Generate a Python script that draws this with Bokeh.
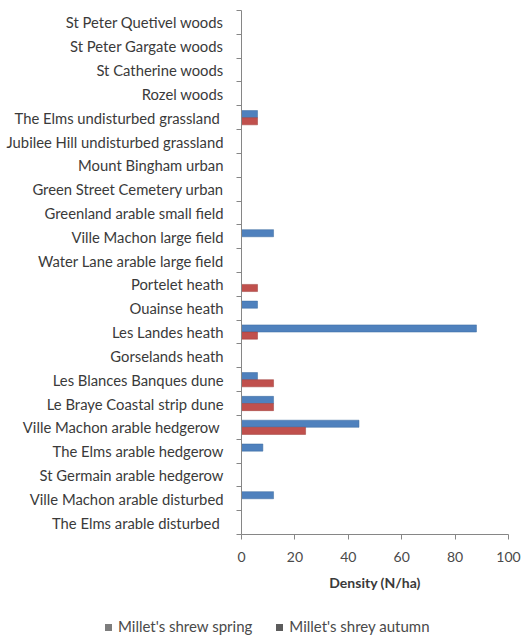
from bokeh.plotting import figure
from bokeh.models import Range1d, FixedTicker, ColumnDataSource, Div
from bokeh.layouts import column
from bokeh.embed import file_html
from bokeh.resources import INLINE

categories = [
    "St Peter Quetivel woods",
    "St Peter Gargate woods",
    "St Catherine woods",
    "Rozel woods",
    "The Elms  undisturbed grassland",
    "Jubilee Hill undisturbed grassland",
    "Mount Bingham urban",
    "Green Street Cemetery urban",
    "Greenland arable small field",
    "Ville Machon large field",
    "Water Lane arable large field",
    "Portelet heath",
    "Ouainse heath",
    "Les Landes heath",
    "Gorselands heath",
    "Les Blances Banques dune",
    "Le Braye Coastal strip dune",
    "Ville Machon  arable hedgerow",
    "The Elms arable hedgerow",
    "St Germain arable hedgerow",
    "Ville Machon arable disturbed",
    "The Elms  arable disturbed",
]
spring = [0, 0, 0, 0, 6, 0, 0, 0, 0, 12, 0, 0, 6, 88, 0, 6, 12, 44, 8, 0, 12, 0]
autumn = [0, 0, 0, 0, 6, 0, 0, 0, 0, 0, 0, 6, 0, 6, 0, 12, 12, 24, 0, 0, 0, 0]
x_ticks = [0, 20, 40, 60, 80, 100]
series_names = ["Millet's shrew spring", "Millet's shrey autumn"]
colors = ["#4F81BD", "#C0504D"]
legend_swatches = ["#7d7d7d", "#5c5c5c"]

n = len(categories)
pos = [n - 1 - i for i in range(n)]
FONT = "Lato"

p = figure(width=524, height=605, output_backend="svg", toolbar_location=None,
           x_range=Range1d(0, 100), y_range=Range1d(-0.5, n - 0.5),
           min_border_left=241, min_border_right=16, min_border_top=10, min_border_bottom=71)
p.outline_line_color = None
p.xgrid.visible = False
p.ygrid.visible = False
p.background_fill_color = "white"
p.border_fill_color = "white"

src_s = ColumnDataSource(dict(y=[v + 0.15 for v in pos], x=spring))
src_a = ColumnDataSource(dict(y=[v - 0.15 for v in pos], x=autumn))
r1 = p.hbar(y="y", right="x", left=0, height=0.3, source=src_s,
            fill_color=colors[0], line_color="#3A6A9E", line_width=0.5)
r2 = p.hbar(y="y", right="x", left=0, height=0.3, source=src_a,
            fill_color=colors[1], line_color="#9E3C39", line_width=0.5)

# y axis
ya = p.yaxis[0]
ya.ticker = FixedTicker(ticks=pos, minor_ticks=[v - 0.5 for v in range(n + 1)])
ya.major_label_overrides = {pos[i]: categories[i] for i in range(n)}
ya.major_tick_line_color = None
ya.minor_tick_line_color = "#868686"
ya.minor_tick_out = 5
ya.minor_tick_in = 0
ya.axis_line_color = "#868686"
ya.major_label_text_font = FONT
ya.major_label_text_font_size = "14.8px"
ya.major_label_text_color = "#3a3a3a"
ya.major_label_standoff = 12

# x axis
xa = p.xaxis[0]
xa.ticker = FixedTicker(ticks=x_ticks)
xa.minor_tick_line_color = None
xa.major_tick_line_color = "#868686"
xa.major_tick_out = 5
xa.major_tick_in = 0
xa.axis_line_color = "#868686"
xa.major_label_text_font = FONT
xa.major_label_text_font_size = "14px"
xa.major_label_text_color = "#4a4a4a"
xa.major_label_standoff = 12
xa.axis_label = "Density (N/ha)"
xa.axis_label_text_font = FONT
xa.axis_label_text_font_size = "14px"
xa.axis_label_text_font_style = "bold"
xa.axis_label_text_color = "#3a3a3a"
xa.axis_label_standoff = 9

# legend strip below the chart (HTML, so it is not clipped to the plot frame)
swatch = ('<span style="display:inline-block;width:7px;height:7px;'
          'background:{c};margin-right:6px;vertical-align:middle;'
          'position:relative;top:-1px;"></span>')
items_html = ('<span style="display:inline-block;width:24px;"></span>').join(
    swatch.format(c=c) + name for c, name in zip(legend_swatches, series_names))
legend_div = Div(
    text=('<div style="font-family:Lato;font-size:15px;color:#4a4a4a;'
          'white-space:nowrap;padding-left:105px;padding-top:12px;line-height:18px;">'
          + items_html + '</div>'),
    width=524, height=30, margin=(0, 0, 0, 0))

layout = column(p, legend_div, spacing=0)
open("out.html", "w").write(file_html(layout, INLINE))
